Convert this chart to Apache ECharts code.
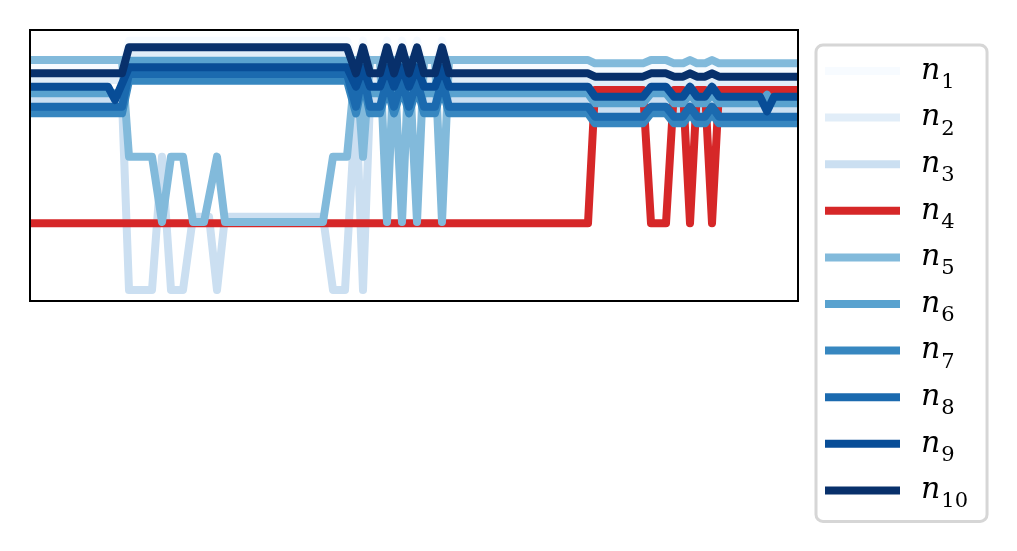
<!DOCTYPE html>
<html><head><meta charset="utf-8">
<script src="https://cdn.jsdelivr.net/npm/echarts@6/dist/echarts.min.js"></script>
<style>html,body{margin:0;padding:0;background:#fff}#c{width:1017px;height:551px}</style>
</head><body><div id="c"></div>
<script>
// x: time position, y: state value (0 = low, 10 = mid, 20 = high, ~25-37 = top band)
const names = ['n1','n2','n3','n4','n5','n6','n7','n8','n9','n10'];
const colors = ['#f7fbff','#e1edf8','#cbdff1','#d62728','#82badb','#59a2cf','#3787c0','#1b6aaf','#084d97','#08306b'];

const n1 = [[0,33.5],[92,33.5],[99,37.4],[317,37.4],[326,33.5],[333,37.4],[340,33.5],[350,33.5],[357,37.4],[364,33.5],[372,37.4],[379,33.5],[387,37.4],[394,33.5],[405,33.5],[412,37.4],[419,33.5],[558,33.5],[565,33],[613,33],[621,33.5],[636,33.5],[644,33],[653,33],[660,33.5],[667,33],[675,33],[682,33.5],[689,33],[768,33]];
const n2 = [[0,31.5],[92,31.5],[99,35.4],[317,35.4],[326,31.5],[333,35.4],[340,31.5],[350,31.5],[357,35.4],[364,31.5],[372,35.4],[379,31.5],[387,35.4],[394,31.5],[405,31.5],[412,35.4],[419,31.5],[558,31.5],[565,31],[613,31],[621,31.5],[636,31.5],[644,31],[653,31],[660,31.5],[667,31],[675,31],[682,31.5],[689,31],[768,31]];
const n3 = [[0,28.5],[92,28.5],[99,0],[122,0],[132,20],[141,0],[153,0],[163,11],[179,11],[187,0],[195,11],[293,11],[303,0],[315,0],[326,28.5],[333,0],[340,28.5],[350,28.5],[357,32.4],[364,28.5],[372,32.4],[379,28.5],[387,32.4],[394,28.5],[405,28.5],[412,32.4],[419,28.5],[558,28.5],[565,27],[613,27],[621,28.5],[636,28.5],[644,27],[653,27],[660,28.5],[667,27],[675,27],[682,28.5],[689,27],[768,27]];
const n4 = [[0,10],[558,10],[565,30],[613,30],[621,10],[636,10],[644,30],[653,30],[660,10],[667,30],[675,30],[682,10],[689,30],[768,30]];
const n5 = [[0,34.5],[92,34.5],[99,20],[122,20],[132,10.2],[141,20],[153,20],[163,10.2],[174,10.2],[187,20],[195,10.2],[293,10.2],[303,20],[317,20],[326,34.5],[333,20],[340,34.5],[350,34.5],[357,10.2],[364,34.5],[372,10.2],[379,34.5],[387,10.2],[394,34.5],[405,34.5],[412,10.2],[419,34.5],[558,34.5],[565,34],[613,34],[621,34.5],[636,34.5],[644,34],[653,34],[660,34.5],[667,34],[675,34],[682,34.5],[689,34],[768,34]];
const n6 = [[0,29.5],[92,29.5],[99,34.4],[317,34.4],[326,29.5],[333,34.4],[340,29.5],[350,29.5],[357,34.4],[364,29.5],[372,34.4],[379,29.5],[387,34.4],[394,29.5],[405,29.5],[412,34.4],[419,29.5],[558,29.5],[565,28],[613,28],[621,29.5],[636,29.5],[644,28],[653,28],[660,29.5],[667,28],[675,28],[682,29.5],[689,28],[730,28],[737,29.3],[744,28],[768,28]];
const n7 = [[0,26.5],[92,26.5],[99,31.4],[317,31.4],[326,26.5],[333,31.4],[340,26.5],[350,26.5],[357,30.4],[364,26.5],[372,30.4],[379,26.5],[387,30.4],[394,26.5],[405,26.5],[412,30.4],[419,26.5],[558,26.5],[565,25],[613,25],[621,26.5],[636,26.5],[644,25],[653,25],[660,26.5],[667,25],[675,25],[682,26.5],[689,25],[768,25]];
const n8 = [[0,27.5],[92,27.5],[99,32.4],[317,32.4],[326,27.5],[333,32.4],[340,27.5],[350,27.5],[357,31.4],[364,27.5],[372,31.4],[379,27.5],[387,31.4],[394,27.5],[405,27.5],[412,31.4],[419,27.5],[558,27.5],[565,26],[613,26],[621,27.5],[636,27.5],[644,26],[653,26],[660,27.5],[667,26],[675,26],[682,27.5],[689,26],[768,26]];
const n9 = [[0,30.5],[78,30.5],[85,28.5],[99,33.4],[317,33.4],[326,30.5],[333,33.4],[340,30.5],[350,30.5],[357,33.4],[364,30.5],[372,33.4],[379,30.5],[387,33.4],[394,30.5],[405,30.5],[412,33.4],[419,30.5],[558,30.5],[565,29],[613,29],[621,30.5],[636,30.5],[644,29],[653,29],[660,30.5],[667,29],[675,29],[682,30.5],[689,29],[730,29],[737,26.8],[744,29],[768,29]];
const n10 = [[0,32.5],[92,32.5],[99,36.4],[317,36.4],[326,32.5],[333,36.4],[340,32.5],[350,32.5],[357,36.4],[364,32.5],[372,36.4],[379,32.5],[387,36.4],[394,32.5],[405,32.5],[412,36.4],[419,32.5],[558,32.5],[565,32],[613,32],[621,32.5],[636,32.5],[644,32],[653,32],[660,32.5],[667,32],[675,32],[682,32.5],[689,32],[768,32]];
const seriesData = [n1,n2,n3,n4,n5,n6,n7,n8,n9,n10];

const chart = echarts.init(document.getElementById('c'), null, {renderer:'canvas'});
chart.setOption({
  animation: false,
  backgroundColor: '#fff',
  grid: {left:30, right:219, top:30, bottom:250, show:true, borderColor:'#000', borderWidth:2, backgroundColor:'transparent', z:10},
  xAxis: {type:'value', min:0, max:768, axisLine:{show:false}, axisTick:{show:false}, axisLabel:{show:false}, splitLine:{show:false}},
  yAxis: {type:'value', min:-1.65, max:39.0, axisLine:{show:false}, axisTick:{show:false}, axisLabel:{show:false}, splitLine:{show:false}},
  legend: {
    orient:'vertical', left:816, top:45,
    icon:'rect', itemWidth:75, itemHeight:8, itemGap:9.6,
    padding:[11,19,9,9],
    backgroundColor:'#fff', borderColor:'#d6d6d6', borderWidth:3, borderRadius:7,
    selectedMode:false,
    data: names,
    formatter: function(name){ return '{i|n}{s|' + name.slice(1) + '}'; },
    textStyle: {
      color:'#000',
      rich: {
        i: {fontFamily:'DejaVu Serif', fontStyle:'italic', fontSize:30, height:30, lineHeight:30, padding:[0,0,0,16], color:'#000'},
        s: {fontFamily:'DejaVu Serif', fontSize:21, height:6, lineHeight:30, padding:[23,0,0,1], color:'#000'}
      }
    }
  },
  series: seriesData.map(function(d, k){
    return {
      name: names[k], type:'line', data:d, color:colors[k],
      showSymbol:false, symbol:'none', silent:true, z:2+k*0.01,
      lineStyle:{width:8, color:colors[k], join:'round', cap:'butt'},
      emphasis:{disabled:true}
    };
  })
});
</script></body></html>
